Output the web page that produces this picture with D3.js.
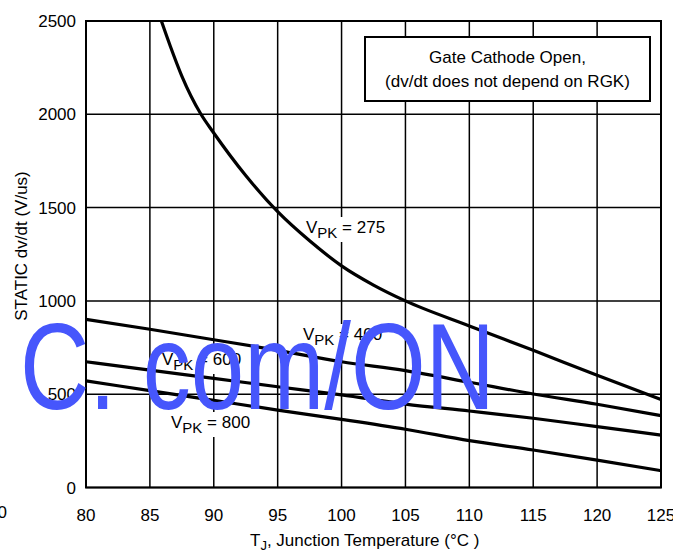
<!DOCTYPE html>
<html>
<head>
<meta charset="utf-8">
<script src="https://cdn.jsdelivr.net/npm/d3@7"></script>
<style>
  body { margin: 0; background: #fff; }
  text { font-family: "Liberation Sans", Arial, sans-serif; font-size: 17px; fill: #000; }
</style>
</head>
<body>
<svg id="chart" width="673" height="553"></svg>
<script>
// junction temperature, deg C
const temps = [80, 85, 90, 95, 100, 105, 110, 115, 120, 125];
// static dv/dt (V/us) for each peak voltage
const vpk400 = [901, 848, 792, 735, 674, 626, 564, 501, 446, 385];
const vpk600 = [674, 629, 585, 540, 496, 447, 410, 371, 326, 281];
const vpk800 = [571, 519, 467, 415, 365, 312, 251, 201, 147, 90];
// VPK = 275 curve leaves the top of the chart, so it has its own x points
const vpk275T = [85.9, 86.6, 87.5, 89, 90, 92.5, 95, 97.5, 100, 102.5, 105, 110, 115, 120, 125];
const vpk275V = [2500, 2365, 2205, 2000, 1900, 1672, 1478, 1322, 1188, 1085, 1000, 866, 735, 602, 472];

const xTicks = [80, 85, 90, 95, 100, 105, 110, 115, 120, 125];
const yTicks = [0, 500, 1000, 1500, 2000, 2500];
const noteLines = ["Gate Cathode Open,", "(dv/dt does not depend on RGK)"];

var margin = {top: 21, left: 86},
    width = 661 - 86,
    height = 487.5 - 21;

var svg = d3.select("#chart");
var g = svg.append("g")
  .attr("transform", "translate(" + margin.left + "," + margin.top + ")");

var x = d3.scaleLinear().domain([80, 125]).range([0, width]);
var y = d3.scaleLinear().domain([0, 2500]).range([height, 0]);

// grid
g.append("g").selectAll("line").data(xTicks).enter().append("line")
  .attr("x1", d => x(d)).attr("x2", d => x(d))
  .attr("y1", 0).attr("y2", height)
  .attr("stroke", "#000").attr("stroke-width", 1.5);
g.append("g").selectAll("line").data(yTicks).enter().append("line")
  .attr("x1", 0).attr("x2", width)
  .attr("y1", d => y(d)).attr("y2", d => y(d))
  .attr("stroke", "#000").attr("stroke-width", 1.5);

// tick labels
g.append("g").selectAll("text").data(xTicks).enter().append("text")
  .attr("x", d => x(d)).attr("y", height + 33)
  .attr("text-anchor", "middle")
  .text(d => d);
g.append("g").selectAll("text").data(yTicks).enter().append("text")
  .attr("x", -10).attr("y", d => y(d) + 6)
  .attr("text-anchor", "end")
  .text(d => d);

// curve labels, with white patch behind them
function vLabel(px, py, val) {
  var lg = g.append("g");
  var bg = lg.append("rect").attr("fill", "#fff");
  var t = lg.append("text").attr("x", px - margin.left).attr("y", py - margin.top);
  t.append("tspan").text("V");
  t.append("tspan").attr("dy", 5).style("font-size", "15px").text("PK");
  t.append("tspan").attr("dy", -5).text(" = " + val);
  var b = t.node().getBBox();
  bg.attr("x", b.x - 2).attr("y", b.y - 1).attr("width", b.width + 4).attr("height", b.height + 2);
}
vLabel(306, 233, 275);
vLabel(303, 340, 400);
vLabel(162, 365, 600);
vLabel(171, 428, 800);

// curves
var line = d3.line().x(d => x(d[0])).y(d => y(d[1])).curve(d3.curveMonotoneX);
var series = [
  d3.zip(vpk275T, vpk275V),
  d3.zip(temps, vpk400),
  d3.zip(temps, vpk600),
  d3.zip(temps, vpk800)
];
g.append("g").selectAll("path").data(series).enter().append("path")
  .attr("d", line)
  .attr("fill", "none")
  .attr("stroke", "#000")
  .attr("stroke-width", 3.2);

// border
g.append("rect")
  .attr("width", width).attr("height", height)
  .attr("fill", "none").attr("stroke", "#000").attr("stroke-width", 2);

// note box
svg.append("rect")
  .attr("x", 365).attr("y", 37).attr("width", 285).attr("height", 64)
  .attr("fill", "#fff").attr("stroke", "#000").attr("stroke-width", 2);
svg.append("g").selectAll("text").data(noteLines).enter().append("text")
  .attr("x", 507.5).attr("y", (d, i) => 63 + i * 24)
  .attr("text-anchor", "middle")
  .text(d => d);

// axis titles
svg.append("text")
  .attr("transform", "translate(27,246) rotate(-90)")
  .attr("text-anchor", "middle")
  .text("STATIC dv/dt (V/us)");
var xt = svg.append("text").attr("x", 250).attr("y", 546);
xt.append("tspan").text("T");
xt.append("tspan").attr("dy", 4).style("font-size", "13px").text("J");
xt.append("tspan").attr("dy", -4).text(", Junction Temperature (\u00B0C )");

// stray zero at the lower left
svg.append("text").attr("x", 7).attr("y", 518).attr("text-anchor", "end").text("0");

// watermark
svg.append("text")
  .attr("x", 20).attr("y", 409)
  .attr("textLength", 475)
  .attr("lengthAdjust", "spacingAndGlyphs")
  .style("font-size", "123px")
  .style("fill", "#4656fc")
  .text("C. com/ON");
</script>
</body>
</html>
